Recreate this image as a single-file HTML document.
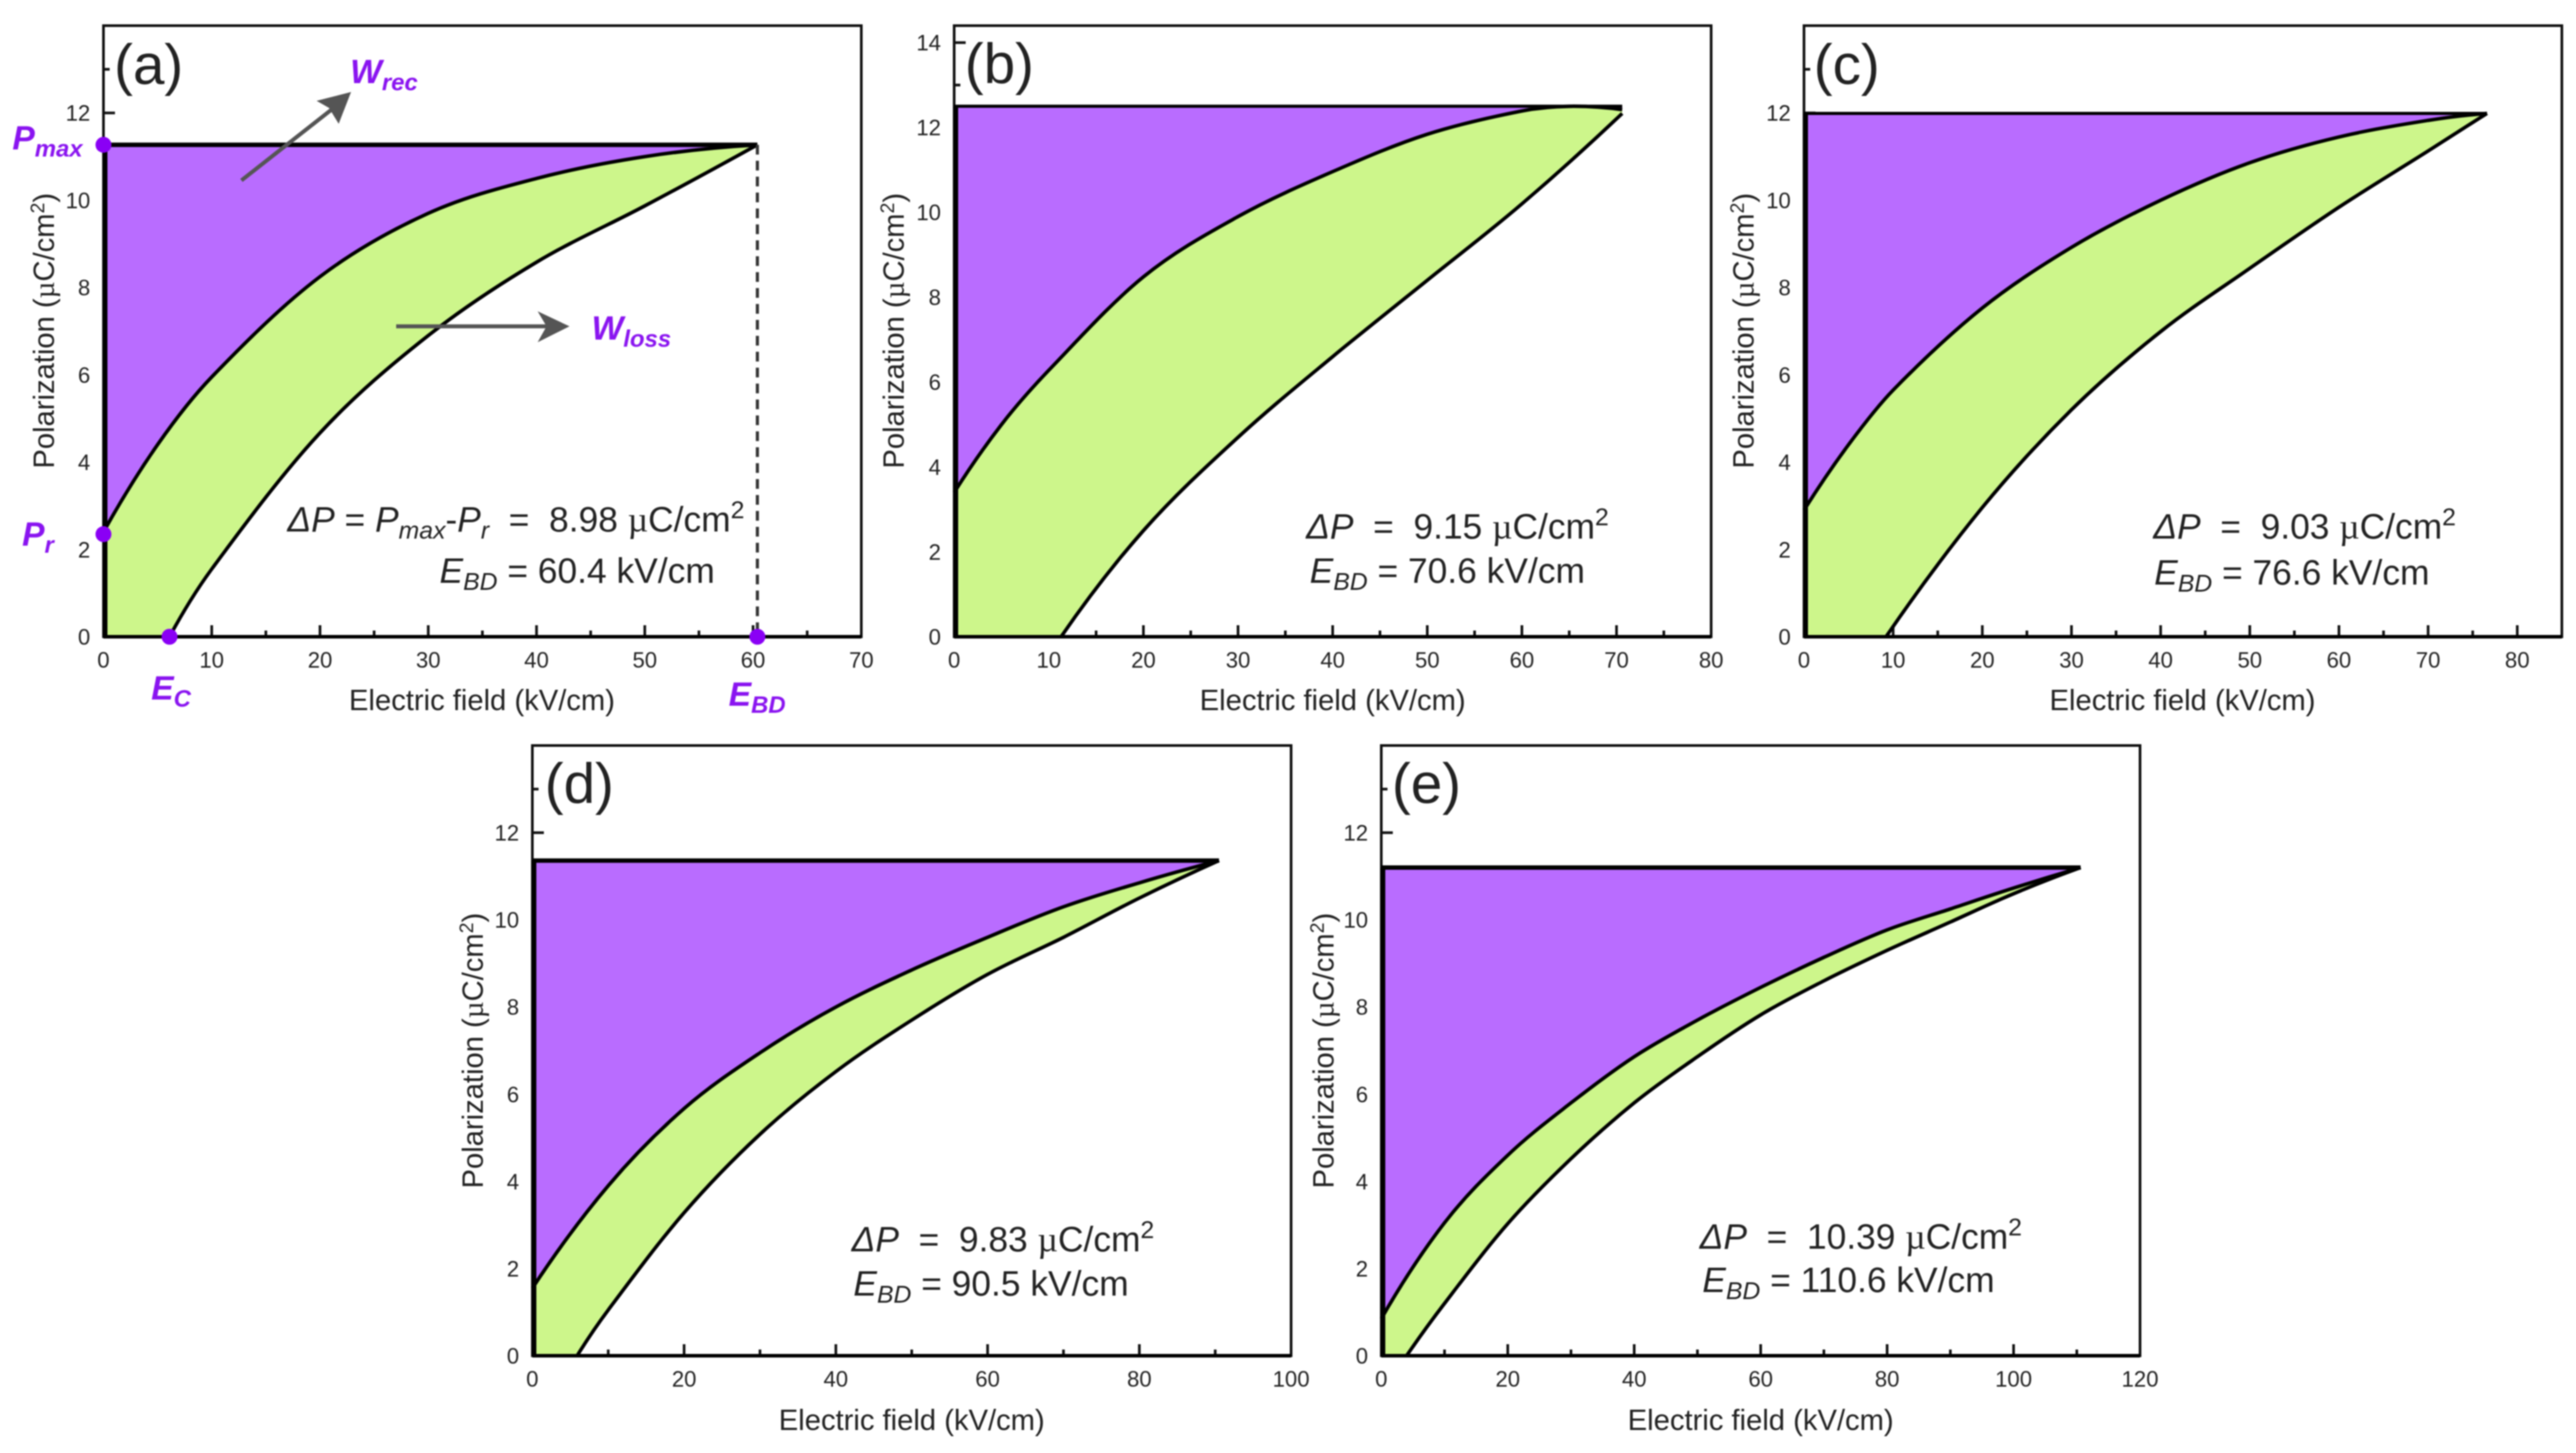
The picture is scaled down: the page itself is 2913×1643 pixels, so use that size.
<!DOCTYPE html>
<html lang="en">
<head>
<meta charset="utf-8">
<title>Polarization vs electric field panels</title>
<style>
html,body{margin:0;padding:0;background:#fff;}
#figure{display:block;width:2913px;height:1643px;filter:blur(0.8px);font-family:"Liberation Sans",sans-serif;}
.tick{font-size:25px;fill:#222;}
.axt{font-size:33px;fill:#222;}
.plab{font-size:64px;fill:#222;}
.ann{font-size:40px;fill:#222;}
.sub{font-size:28px;font-style:italic;}
.it{font-style:italic;}
.pur{font-weight:bold;font-style:italic;fill:#8a14f0;font-size:38px;}
.pursub{font-size:27px;}
.mu{font-family:"Liberation Serif",serif;}
</style>
</head>
<body>
<svg id="figure" xmlns="http://www.w3.org/2000/svg" width="2913" height="1643" viewBox="0 0 2913 1643">
  <rect width="2913" height="1643" fill="#fff"/>

  <g id="panel-a">
    <g id="marks-a"></g>
    <text class="plab" x="129" y="95">(a)</text>
    <text class="axt" x="545" y="803" text-anchor="middle">Electric field (kV/cm)</text>
    <text class="axt" transform="translate(61,374) rotate(-90)" text-anchor="middle">Polarization (<tspan class="mu">µ</tspan>C/cm<tspan dy="-11" font-size="22">2</tspan><tspan dy="11">)</tspan></text>
    <text class="ann" x="325" y="601"><tspan class="it">ΔP</tspan> = <tspan class="it">P</tspan><tspan class="sub" dy="8">max</tspan><tspan dy="-8">-</tspan><tspan class="it">P</tspan><tspan class="sub" dy="8">r</tspan><tspan dy="-8" xml:space="preserve">  =  8.98 </tspan><tspan class="mu">µ</tspan>C/cm<tspan dy="-15" font-size="28">2</tspan></text>
    <text class="ann" x="497" y="659"><tspan class="it">E</tspan><tspan class="sub" dy="8">BD</tspan><tspan dy="-8"> = 60.4 kV/cm</tspan></text>
    <text class="pur" x="14" y="169">P<tspan class="pursub" dy="8">max</tspan></text>
    <text class="pur" x="25" y="617">P<tspan class="pursub" dy="8">r</tspan></text>
    <text class="pur" x="171" y="791">E<tspan class="pursub" dy="8">C</tspan></text>
    <text class="pur" x="824" y="798">E<tspan class="pursub" dy="8">BD</tspan></text>
    <text class="pur" x="396" y="94">W<tspan class="pursub" dy="8">rec</tspan></text>
    <text class="pur" x="669" y="384">W<tspan class="pursub" dy="8">loss</tspan></text>
    <g>
      <line x1="273" y1="204" x2="385" y2="116" stroke="#555" stroke-width="4.5"/>
      <polygon points="397,104 383,140 372,122 358,114" fill="#555"/>
    </g>
    <g>
      <line x1="448" y1="369" x2="630" y2="369" stroke="#555" stroke-width="4.5"/>
      <polygon points="644,369 608,352 618,369 608,387" fill="#555"/>
    </g>
  </g>

  <g id="panel-b">
    <g id="marks-b"></g>
    <text class="plab" x="1091" y="94">(b)</text>
    <text class="axt" x="1507" y="803" text-anchor="middle">Electric field (kV/cm)</text>
    <text class="axt" transform="translate(1022,374) rotate(-90)" text-anchor="middle">Polarization (<tspan class="mu">µ</tspan>C/cm<tspan dy="-11" font-size="22">2</tspan><tspan dy="11">)</tspan></text>
    <text class="ann" x="1477" y="609" xml:space="preserve"><tspan class="it">ΔP</tspan>  =  9.15 <tspan class="mu">µ</tspan>C/cm<tspan dy="-15" font-size="28">2</tspan></text>
    <text class="ann" x="1481" y="659"><tspan class="it">E</tspan><tspan class="sub" dy="8">BD</tspan><tspan dy="-8"> = 70.6 kV/cm</tspan></text>
  </g>

  <g id="panel-c">
    <g id="marks-c"></g>
    <text class="plab" x="2051" y="95">(c)</text>
    <text class="axt" x="2468" y="803" text-anchor="middle">Electric field (kV/cm)</text>
    <text class="axt" transform="translate(1983,374) rotate(-90)" text-anchor="middle">Polarization (<tspan class="mu">µ</tspan>C/cm<tspan dy="-11" font-size="22">2</tspan><tspan dy="11">)</tspan></text>
    <text class="ann" x="2435" y="609" xml:space="preserve"><tspan class="it">ΔP</tspan>  =  9.03 <tspan class="mu">µ</tspan>C/cm<tspan dy="-15" font-size="28">2</tspan></text>
    <text class="ann" x="2436" y="661"><tspan class="it">E</tspan><tspan class="sub" dy="8">BD</tspan><tspan dy="-8"> = 76.6 kV/cm</tspan></text>
  </g>

  <g id="panel-d">
    <g id="marks-d"></g>
    <text class="plab" x="616" y="908">(d)</text>
    <text class="axt" x="1031" y="1617" text-anchor="middle">Electric field (kV/cm)</text>
    <text class="axt" transform="translate(546,1188) rotate(-90)" text-anchor="middle">Polarization (<tspan class="mu">µ</tspan>C/cm<tspan dy="-11" font-size="22">2</tspan><tspan dy="11">)</tspan></text>
    <text class="ann" x="963" y="1415" xml:space="preserve"><tspan class="it">ΔP</tspan>  =  9.83 <tspan class="mu">µ</tspan>C/cm<tspan dy="-15" font-size="28">2</tspan></text>
    <text class="ann" x="965" y="1465"><tspan class="it">E</tspan><tspan class="sub" dy="8">BD</tspan><tspan dy="-8"> = 90.5 kV/cm</tspan></text>
  </g>

  <g id="panel-e">
    <g id="marks-e"></g>
    <text class="plab" x="1574" y="908">(e)</text>
    <text class="axt" x="1991" y="1617" text-anchor="middle">Electric field (kV/cm)</text>
    <text class="axt" transform="translate(1508,1188) rotate(-90)" text-anchor="middle">Polarization (<tspan class="mu">µ</tspan>C/cm<tspan dy="-11" font-size="22">2</tspan><tspan dy="11">)</tspan></text>
    <text class="ann" x="1922" y="1412" xml:space="preserve"><tspan class="it">ΔP</tspan>  =  10.39 <tspan class="mu">µ</tspan>C/cm<tspan dy="-15" font-size="28">2</tspan></text>
    <text class="ann" x="1925" y="1461"><tspan class="it">E</tspan><tspan class="sub" dy="8">BD</tspan><tspan dy="-8"> = 110.6 kV/cm</tspan></text>
  </g>
</svg>

<script>
// ---- Panel (a) values ----
const aUpperField = [0, 5, 10, 20, 30, 40, 50, 60.4];
const aUpperPol = [2.4, 4.4, 5.95, 8.25, 9.7, 10.5, 11.0, 11.27];
const aLowerField = [6.1, 10, 20, 30, 40, 50, 60.4];
const aLowerPol = [0, 1.55, 4.67, 6.9, 8.58, 9.87, 11.27];
const aXTicks = [0, 10, 20, 30, 40, 50, 60, 70];
const aXMinor = [5, 15, 25, 35, 45, 55, 65];
const aYTicks = [0, 2, 4, 6, 8, 10, 12];
const aYMinor = [1, 3, 5, 7, 9, 11, 13];

// ---- Panel (b) values ----
const bUpperField = [0, 5, 10, 20, 30, 40, 50, 60, 65, 70.6];
const bUpperPol = [3.4, 5.0, 6.28, 8.48, 9.9, 10.96, 11.84, 12.39, 12.5, 12.42];
const bLowerField = [11.3, 20, 30, 40, 50, 60, 70.6];
const bLowerPol = [0, 2.5, 4.7, 6.6, 8.4, 10.2, 12.33];
const bXTicks = [0, 10, 20, 30, 40, 50, 60, 70, 80];
const bXMinor = [5, 15, 25, 35, 45, 55, 65, 75];
const bYTicks = [0, 2, 4, 6, 8, 10, 12, 14];
const bYMinor = [1, 3, 5, 7, 9, 11, 13];

// ---- Panel (c) values ----
const cUpperField = [0, 5, 10, 20, 30, 40, 50, 60, 70, 76.6];
const cUpperPol = [2.9, 4.4, 5.65, 7.53, 8.92, 10, 10.86, 11.45, 11.83, 11.99];
const cLowerField = [9.2, 20, 30, 40, 50, 60, 70, 76.6];
const cLowerPol = [0, 2.96, 5.2, 6.99, 8.44, 9.84, 11.13, 11.99];
const cXTicks = [0, 10, 20, 30, 40, 50, 60, 70, 80];
const cXMinor = [5, 15, 25, 35, 45, 55, 65, 75];
const cYTicks = [0, 2, 4, 6, 8, 10, 12];
const cYMinor = [1, 3, 5, 7, 9, 11, 13];

// ---- Panel (d) values ----
const dUpperField = [0, 10, 20, 30, 40, 50, 60, 70, 80, 90.5];
const dUpperPol = [1.55, 3.9, 5.67, 6.95, 8.0, 8.85, 9.6, 10.3, 10.85, 11.36];
const dLowerField = [5.9, 10, 20, 30, 40, 50, 60, 70, 80, 90.5];
const dLowerPol = [0, 1.05, 3.28, 5.08, 6.52, 7.7, 8.75, 9.6, 10.5, 11.36];
const dXTicks = [0, 20, 40, 60, 80, 100];
const dXMinor = [10, 30, 50, 70, 90];
const dYTicks = [0, 2, 4, 6, 8, 10, 12];
const dYMinor = [1, 3, 5, 7, 9, 11, 13];

// ---- Panel (e) values ----
const eUpperField = [0, 10, 20, 30, 40, 50, 60, 70, 80, 90, 100, 110.6];
const eUpperPol = [0.85, 3.05, 4.6, 5.8, 6.86, 7.7, 8.45, 9.14, 9.77, 10.25, 10.73, 11.2];
const eLowerField = [4, 10, 20, 30, 40, 50, 60, 70, 80, 90, 100, 110.6];
const eLowerPol = [0, 1.2, 3.03, 4.52, 5.8, 6.86, 7.82, 8.6, 9.3, 9.95, 10.6, 11.2];
const eXTicks = [0, 20, 40, 60, 80, 100, 120];
const eXMinor = [10, 30, 50, 70, 90, 110];
const eYTicks = [0, 2, 4, 6, 8, 10, 12];
const eYMinor = [1, 3, 5, 7, 9, 11, 13];

// ---- Panel (a) marked points ----
const markerFields = [0, 0, 6.1, 60.4];
const markerPols = [11.27, 2.35, 0, 0];
const breakdownField = [60.4];
const breakdownPol = [11.27];

// Layout (separate from data)
const NS = 'http://www.w3.org/2000/svg';
const PURPLE = '#b96cff', GREEN = '#cdf68b';
const panels = [
  {id:'a', box:[117,974,29,720], xMax:70, yMax:14.0, top:5, ux:aUpperField, uy:aUpperPol, lx:aLowerField, ly:aLowerPol, xt:aXTicks, xm:aXMinor, yt:aYTicks, ym:aYMinor},
  {id:'b', box:[1079,1935,29,720], xMax:80, yMax:14.4, top:3.5, ux:bUpperField, uy:bUpperPol, lx:bLowerField, ly:bLowerPol, xt:bXTicks, xm:bXMinor, yt:bYTicks, ym:bYMinor},
  {id:'c', box:[2040,2897,29,720], xMax:85, yMax:14.0, top:3.5, ux:cUpperField, uy:cUpperPol, lx:cLowerField, ly:cLowerPol, xt:cXTicks, xm:cXMinor, yt:cYTicks, ym:cYMinor},
  {id:'d', box:[602,1460,843,1533], xMax:100, yMax:14.0, top:5, ux:dUpperField, uy:dUpperPol, lx:dLowerField, ly:dLowerPol, xt:dXTicks, xm:dXMinor, yt:dYTicks, ym:dYMinor},
  {id:'e', box:[1562,2420,843,1533], xMax:120, yMax:14.0, top:5, ux:eUpperField, uy:eUpperPol, lx:eLowerField, ly:eLowerPol, xt:eXTicks, xm:eXMinor, yt:eYTicks, ym:eYMinor}
];

function make(tag, attrs, parent) {
  const el = document.createElementNS(NS, tag);
  for (const k in attrs) el.setAttribute(k, attrs[k]);
  parent.appendChild(el);
  return el;
}

// Smooth cubic segments through pixel points, with spacing-aware tangents
function smooth(pts) {
  const n = pts.length;
  const slopes = pts.map((p, i) => {
    if (i === 0 || i === n - 1) return 0;
    return (pts[i + 1][1] - pts[i - 1][1]) / (pts[i + 1][0] - pts[i - 1][0]);
  });
  slopes[0] = 2 * (pts[1][1] - pts[0][1]) / (pts[1][0] - pts[0][0]) - slopes[1];
  slopes[n - 1] = 2 * (pts[n - 1][1] - pts[n - 2][1]) / (pts[n - 1][0] - pts[n - 2][0]) - slopes[n - 2];
  let d = '';
  for (let i = 0; i < n - 1; i++) {
    const h = pts[i + 1][0] - pts[i][0];
    const c1x = pts[i][0] + h / 3, c1y = pts[i][1] + slopes[i] * h / 3;
    const c2x = pts[i + 1][0] - h / 3, c2y = pts[i + 1][1] - slopes[i + 1] * h / 3;
    d += 'C' + c1x.toFixed(1) + ' ' + c1y.toFixed(1) + ' ' + c2x.toFixed(1) + ' ' + c2y.toFixed(1) + ' ' + pts[i + 1][0].toFixed(1) + ' ' + pts[i + 1][1].toFixed(1);
  }
  return d;
}

function drawPanel(p) {
  const g = document.getElementById('marks-' + p.id);
  const [L, R, T, B] = p.box;
  const X = v => L + (R - L) * v / p.xMax;
  const Y = v => B - (B - T) * v / p.yMax;

  const frame = make('rect', {x:L, y:T, width:R-L, height:B-T, fill:'#fff', stroke:'#111', 'stroke-width':3}, g);
  
  

  p.xt.forEach(v => {
    const t = make('line', {x1:X(v), x2:X(v), y1:B, y2:B-13, stroke:'#111', 'stroke-width':3}, g);
    
    
    const lab = make('text', {x:X(v), y:B+35, 'text-anchor':'middle', class:'tick'}, g);
    
    
    lab.textContent = v;
  });
  p.xm.forEach(v => {
    const t = make('line', {x1:X(v), x2:X(v), y1:B, y2:B-7, stroke:'#111', 'stroke-width':3}, g);
    
    
  });
  p.yt.forEach(v => {
    const t = make('line', {x1:L, x2:L+13, y1:Y(v), y2:Y(v), stroke:'#111', 'stroke-width':3}, g);
    
    
    const lab = make('text', {x:L-15, y:Y(v)+9, 'text-anchor':'end', class:'tick'}, g);
    
    
    lab.textContent = v;
  });
  p.ym.forEach(v => {
    const t = make('line', {x1:L, x2:L+7, y1:Y(v), y2:Y(v), stroke:'#111', 'stroke-width':3}, g);
    
    
  });

  const upper = p.ux.map((v, i) => [X(v), Y(p.uy[i])]);
  const lower = p.lx.map((v, i) => [X(v), Y(p.ly[i])]);
  const n = p.ux.length - 1;
  const pmaxY = Y(Math.max(...p.uy));
  const tipX = X(p.ux[n]);
  const upperRev = upper.slice().reverse();
  const lowerRev = lower.slice().reverse();
  const x0 = L + 2, y0 = B;

  const purple = make('path', {fill:PURPLE, stroke:'none',
    d:'M' + x0 + ' ' + pmaxY + 'L' + tipX + ' ' + pmaxY + 'L' + upperRev[0][0] + ' ' + upperRev[0][1] + smooth(upperRev) + 'Z'}, g);
  
  

  const green = make('path', {fill:GREEN, stroke:'none',
    d:'M' + upper[0][0] + ' ' + upper[0][1] + smooth(upper) + 'L' + lowerRev[0][0] + ' ' + lowerRev[0][1] + smooth(lowerRev) + 'L' + x0 + ' ' + y0 + 'Z'}, g);
  
  

  const dis = make('path', {fill:'none', stroke:'#000', 'stroke-width':4, d:'M' + upper[0][0] + ' ' + upper[0][1] + smooth(upper)}, g);
  
  

  const chg = make('path', {fill:'none', stroke:'#000', 'stroke-width':4, d:'M' + lower[0][0] + ' ' + lower[0][1] + smooth(lower)}, g);
  
  

  const topLine = make('line', {x1:L, x2:tipX, y1:pmaxY, y2:pmaxY, stroke:'#000', 'stroke-width':p.top}, g);
  
  

  const leftLine = make('line', {x1:L+2, x2:L+2, y1:pmaxY, y2:B, stroke:'#000', 'stroke-width':5}, g);
  
  

  const base = make('line', {x1:L, x2:R, y1:B, y2:B, stroke:'#000', 'stroke-width':4}, g);
  
  

  if (p.id === 'a') {
    const dash = make('line', {x1:X(breakdownField[0]), x2:X(breakdownField[0]), y1:Y(breakdownPol[0]), y2:B, stroke:'#333', 'stroke-width':3.5, 'stroke-dasharray':'11 7'}, g);
    
    
    markerFields.forEach((v, i) => {
      const m = make('circle', {cx:X(v), cy:Y(markerPols[i]), r:9, fill:'#8a00f5'}, g);
      
      
    });
  }
}

panels.forEach(drawPanel);
</script>
</body>
</html>
